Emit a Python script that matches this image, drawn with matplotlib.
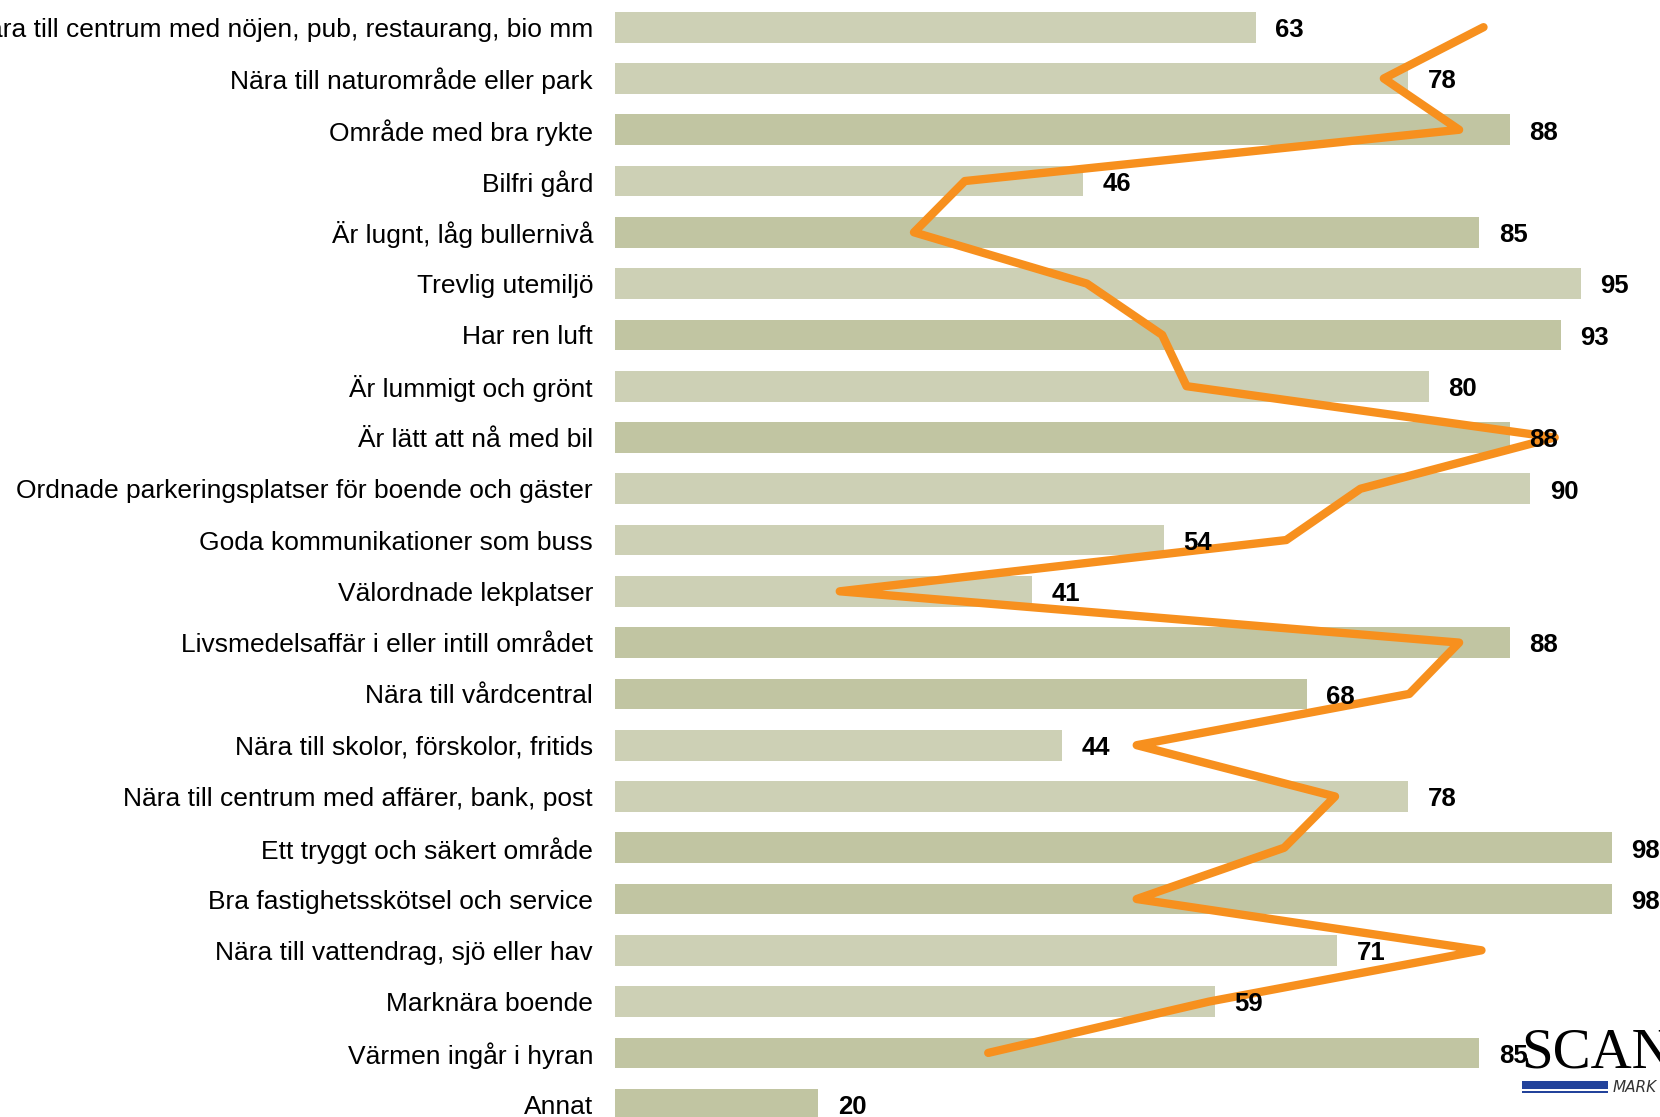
import numpy as np
import matplotlib.pyplot as plt
from matplotlib.patches import Rectangle

# survey items, top to bottom
labels = [
    "Nära till centrum med nöjen, pub, restaurang, bio mm",
    "Nära till naturområde eller park",
    "Område med bra rykte",
    "Bilfri gård",
    "Är lugnt, låg bullernivå",
    "Trevlig utemiljö",
    "Har ren luft",
    "Är lummigt och grönt",
    "Är lätt att nå med bil",
    "Ordnade parkeringsplatser för boende och gäster",
    "Goda kommunikationer som buss",
    "Välordnade lekplatser",
    "Livsmedelsaffär i eller intill området",
    "Nära till vårdcentral",
    "Nära till skolor, förskolor, fritids",
    "Nära till centrum med affärer, bank, post",
    "Ett tryggt och säkert område",
    "Bra fastighetsskötsel och service",
    "Nära till vattendrag, sjö eller hav",
    "Marknära boende",
    "Värmen ingår i hyran",
    "Annat",
]
values = [63, 78, 88, 46, 85, 95, 93, 80, 88, 90, 54, 41, 88, 68, 44, 78, 98, 98, 71, 59, 85, 20]
# 1 = darker shade in the original
shade = [0, 0, 1, 0, 1, 0, 1, 0, 1, 0, 0, 0, 1, 1, 0, 0, 1, 1, 0, 0, 1, 1]
# orange comparison line (no value for "Annat")
line_vals = [85.4, 75.6, 83.0, 34.4, 29.4, 46.4, 53.8, 56.2, 92.4, 73.3, 66.0,
             22.1, 83.0, 78.1, 51.3, 70.8, 65.8, 51.3, 85.2, 58.4, 36.7, np.nan]

W, H = 1660, 1117
fig = plt.figure(figsize=(W / 100, H / 100), dpi=100)
ax = fig.add_axes([615 / W, 0, 1 - 615 / W, 1])

rows = np.arange(len(labels))
colors = ['#C1C5A2' if s else '#CDD0B5' for s in shade]
ax.barh(rows, values, height=0.6, color=colors, zorder=1)
ax.plot(line_vals, rows, color='#F7901E', lw=6,
        solid_joinstyle='round', solid_capstyle='round', zorder=2)

for i, v in enumerate(values):
    ax.annotate(str(v), (v, i), xytext=(14, -2), textcoords='offset points',
                va='center', ha='left', fontsize=18.5, fontweight='bold',
                family='Liberation Sans', zorder=3)

ax.set_xlim(0, 1045 / 10.17)
ax.set_ylim(21.25, -0.53)
ax.set_yticks(rows)
ax.set_yticklabels(labels, fontsize=19, family='Liberation Sans')
for t in ax.get_yticklabels():
    t.set_y(t.get_position()[1])
ax.tick_params(axis='y', length=0, pad=15.8)
ax.set_xticks([])
for s in ax.spines.values():
    s.set_visible(False)

# logo in the corner
fig.text(1521 / W, 1 - 1067 / H, "SCAN", family='Liberation Serif', fontsize=41,
         ha='left', va='baseline')
fig.add_artist(Rectangle((1522 / W, 1 - 1089 / H), 86 / W, 8 / H,
                         transform=fig.transFigure, color='#23439B', lw=0))
fig.add_artist(Rectangle((1522 / W, 1 - 1093 / H), 86 / W, 2 / H,
                         transform=fig.transFigure, color='#23439B', lw=0))
fig.text(1613 / W, 1 - 1092 / H, "MARK", family='DejaVu Sans', fontsize=11,
         style='italic', color='#333333', ha='left', va='baseline')

fig.savefig('out.png', dpi=100)
